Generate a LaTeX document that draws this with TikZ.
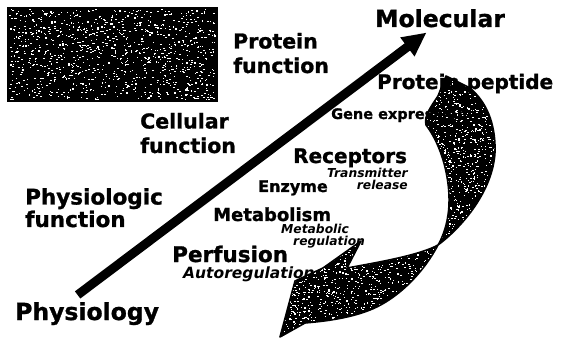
\documentclass[tikz,border=0pt]{standalone}
\usepackage{fontspec}
\setmainfont{DejaVu Sans}[BoldFeatures={FakeBold=1.2}]
\usetikzlibrary{arrows.meta}
\newcommand{\txtsize}[2]{\fontsize{#1pt}{#2pt}\selectfont\bfseries}
\begin{document}
\begin{tikzpicture}[x=1pt,y=-1pt,
    lbl/.style={inner sep=0pt, anchor=base west, align=left},
    big/.style={lbl, font=\txtsize{23.5}{28}},
    mid/.style={lbl, font=\txtsize{20.5}{24.5}},
    small/.style={lbl, font=\txtsize{12.3}{13}\itshape},
    speck/.style={white}]
    \useasboundingbox (0,0) rectangle (565,339);
    \pgfmathsetseed{11}
    % speckled picture block
    \fill (7,7) rectangle (218,102);
    \foreach \i in {1,...,1050}{
        \pgfmathsetmacro\sx{9+206*rnd}
        \pgfmathsetmacro\sy{9+90*rnd}
        \fill[speck] (\sx,\sy) rectangle ++(1.5,1.1);
    }
    % twisted ribbon arrow
    \path[save path=\ribbonpath] (280,337) -- (295,281) -- (323,268) -- (361,241) -- (347,268)
        .. controls (380,262) and (420,255) .. (438,245)
        .. controls (465,225) and (497,185) .. (495,145)
        .. controls (494,118) and (484,100) .. (470,88)
        -- (446,76) -- (438,96)
        .. controls (430,108) and (424,116) .. (426,125)
        .. controls (445,150) and (452,190) .. (448,215)
        .. controls (446,230) and (440,242) .. (438,245)
        .. controls (425,270) and (400,298) .. (370,310)
        .. controls (345,320) and (315,322) .. (305,323) -- cycle;
    \fill[use path=\ribbonpath];
    \begin{scope}
        \path[clip, use path=\ribbonpath];
        \foreach \i in {1,...,900}{
            \pgfmathsetmacro\sx{424+73*rnd}
            \pgfmathsetmacro\sy{72+180*rnd}
            \fill[speck] (\sx,\sy) rectangle ++(1.4,1.1);
        }
        \foreach \i in {1,...,1150}{
            \pgfmathsetmacro\sx{278+165*rnd}
            \pgfmathsetmacro\sy{238+100*rnd}
            \fill[speck] (\sx,\sy) rectangle ++(1.4,1.1);
        }
    \end{scope}
    \draw[line width=1.6pt, line join=round, use path=\ribbonpath];
    % labels
    \node[big] (mol) at (375,27) {Molecular};
    \node[mid] (protfn) at (233,73) {Protein\\function};
    \node[mid] (cellfn) at (140,153) {Cellular\\function};
    \node[lbl, font=\txtsize{21.5}{22.5}] (physfn) at (25,227) {Physiologic\\function};
    \node[big] (phys) at (15,320) {Physiology};
    \node[lbl, font=\txtsize{20}{20}] (pep) at (377,89) {Protein peptide};
    \node[lbl, font=\txtsize{14.5}{15}] (gene) at (331,119) {Gene expression};
    \node[lbl, font=\txtsize{20}{20}] (rec) at (293,163) {Receptors};
    \node[small, anchor=base east, align=right] (trans) at (408,190) {Transmitter\\release};
    \node[lbl, font=\txtsize{16}{16}] (enz) at (258,192) {Enzyme};
    \node[lbl, font=\txtsize{18}{18}] (metab) at (213,221) {Metabolism};
    \node[small] (metreg) at (281,234) {Metabolic};
    \node[small] (reg) at (293,246) {regulation};
    \node[lbl, font=\txtsize{21.5}{22}] (perf) at (172,262) {Perfusion};
    \node[small, font=\txtsize{15.5}{16}\itshape] (auto) at (183,278) {Autoregulation};
    % main arrow
    \draw[line width=9pt, -{Triangle[length=24pt,width=22pt]}] ([shift={(-9.5pt,7pt)}]phys.north) -- ([shift={(-13.5pt,-5pt)}]mol.south);
\end{tikzpicture}
\end{document}
